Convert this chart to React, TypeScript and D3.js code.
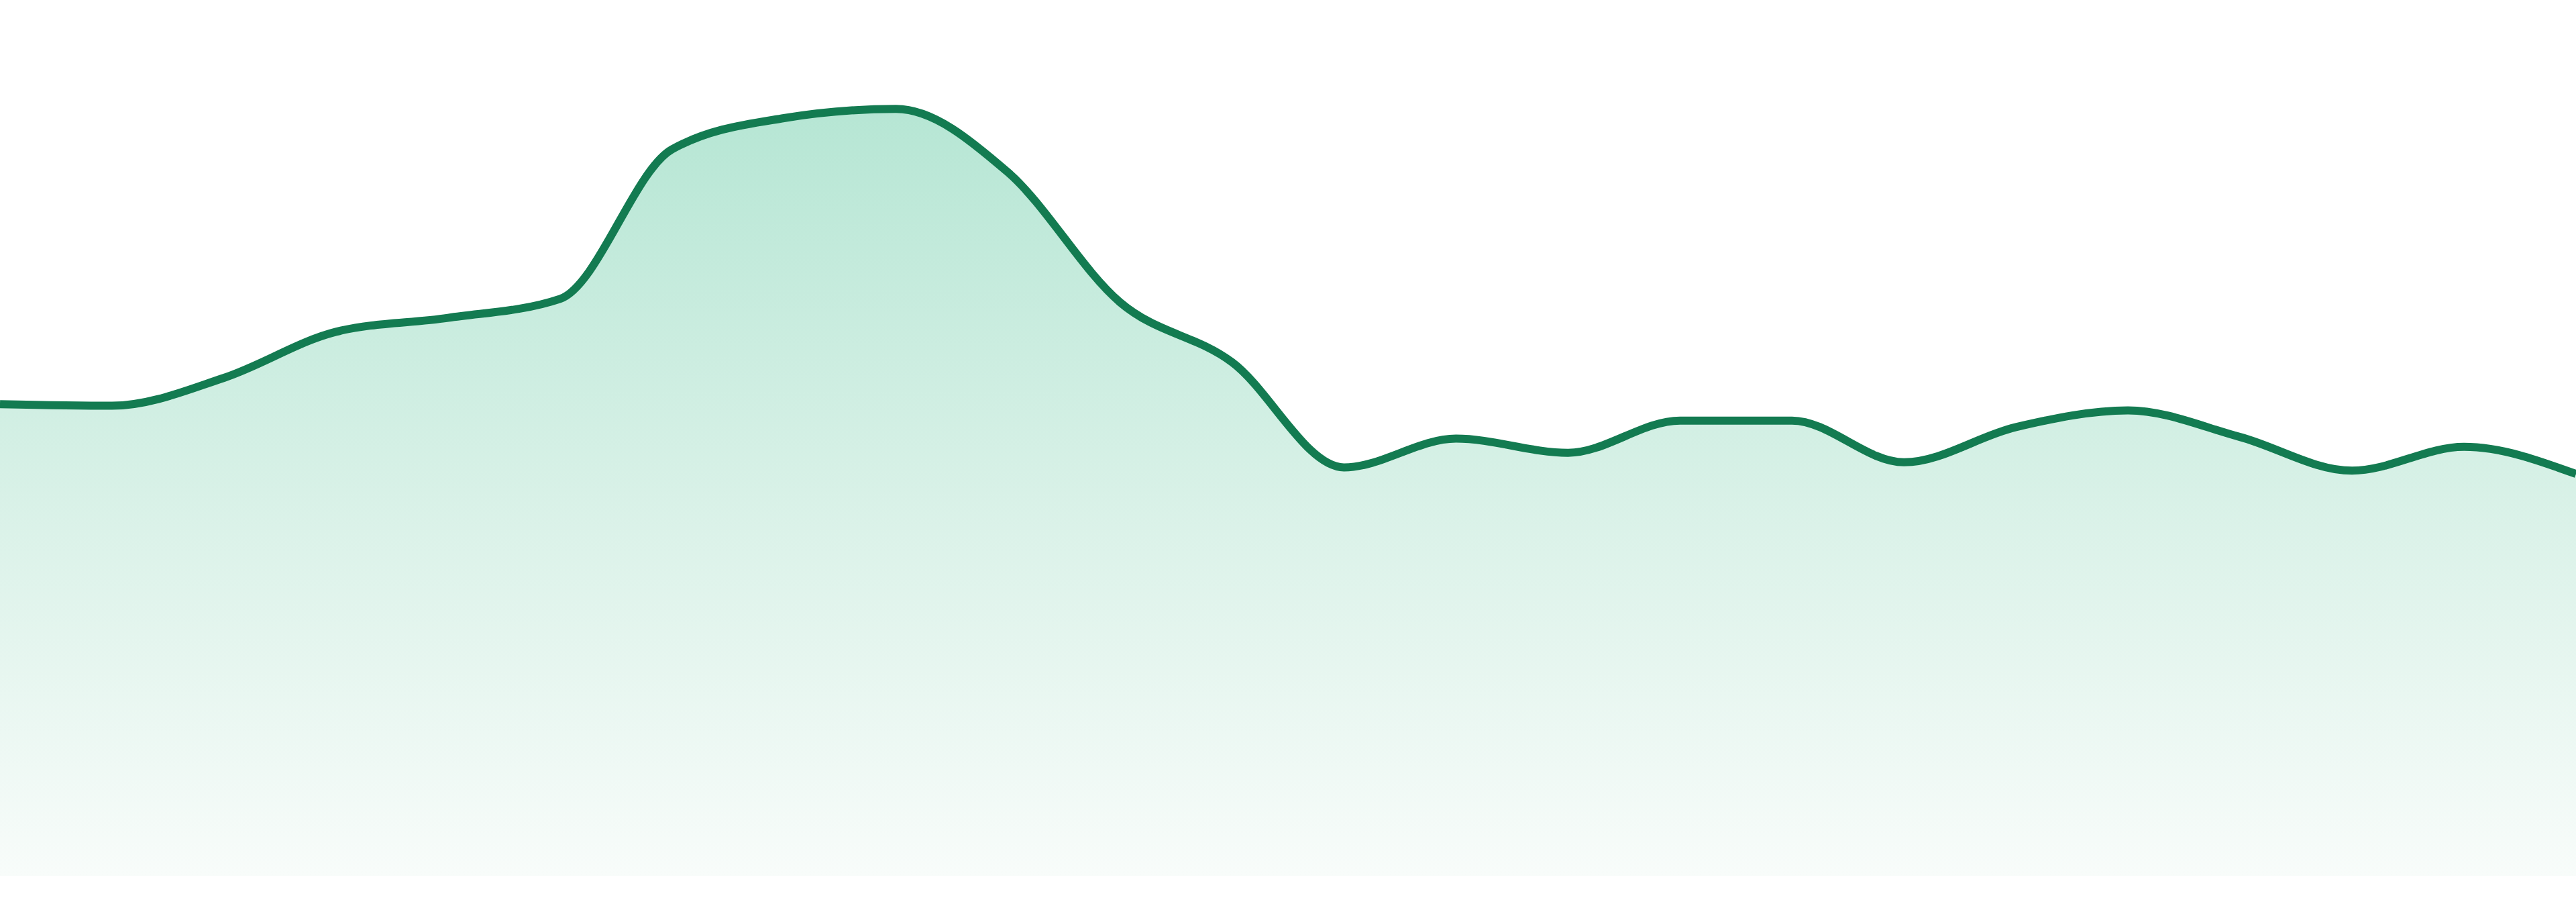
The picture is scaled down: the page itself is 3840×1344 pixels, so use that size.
import * as d3 from "d3";

const WIDTH = 3840;
const HEIGHT = 1344;
const BASELINE = 1305;

// one value per evenly spaced step
const steps = d3.range(24);
const values = [
  287, 286, 303, 331, 339.5, 351, 442, 461, 466.6, 428, 349, 312.5,
  248.5, 266, 257.4, 277, 277, 251.6, 273, 283.2, 267, 246.5, 261, 244.5,
];

const lineColor = "#137b51";
const fillTop = "#b6e6d4";
const fillMid = "#d8f1e7";
const fillBottom = "#f8fcfa";

type Point = { s: number; v: number };

export default function App() {
  const x = d3.scaleLinear().domain([0, steps.length - 1]).range([0, WIDTH]);
  const y = d3
    .scaleLinear()
    .domain([0, 500])
    .range([BASELINE, BASELINE - 500 * 2.449]);

  const data: Point[] = steps.map((s, i) => ({ s, v: values[i] }));

  const area = d3
    .area<Point>()
    .x((d) => x(d.s))
    .y0(BASELINE)
    .y1((d) => y(d.v))
    .curve(d3.curveMonotoneX);

  const line = d3
    .line<Point>()
    .x((d) => x(d.s))
    .y((d) => y(d.v))
    .curve(d3.curveMonotoneX);

  const top = y(d3.max(values) as number);

  return (
    <svg
      width={WIDTH}
      height={HEIGHT}
      style={{ position: "absolute", left: 0, top: 0, display: "block", background: "#fff" }}
    >
      <defs>
        <linearGradient id="areaFill" gradientUnits="userSpaceOnUse" x1={0} x2={0} y1={top} y2={BASELINE}>
          <stop offset="0" stopColor={fillTop} />
          <stop offset="0.5" stopColor={fillMid} />
          <stop offset="1" stopColor={fillBottom} />
        </linearGradient>
      </defs>
      <path d={area(data) ?? ""} fill="url(#areaFill)" />
      <path
        d={line(data) ?? ""}
        fill="none"
        stroke={lineColor}
        strokeWidth={12}
        strokeLinejoin="round"
      />
    </svg>
  );
}
